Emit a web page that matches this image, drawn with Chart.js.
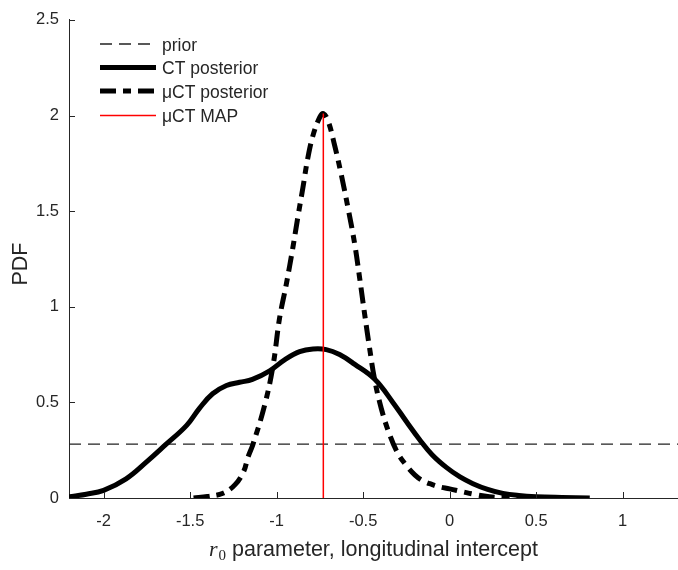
<!DOCTYPE html>
<html>
<head>
<meta charset="utf-8">
<script src="https://cdn.jsdelivr.net/npm/chart.js@4.4.1/dist/chart.umd.min.js"></script>
<style>
  html, body { margin: 0; padding: 0; background: #fff; }
</style>
</head>
<body>
<canvas id="grafico" width="678" height="570"></canvas>
<script>
// Valores (x = r0, y = PDF)
const ctX = [-2.2, -2.1, -2.0, -1.87, -1.75, -1.64, -1.52, -1.445, -1.37, -1.29, -1.214, -1.14, -1.04, -0.95, -0.867, -0.79, -0.713, -0.636, -0.55, -0.434, -0.328, -0.25, -0.173, -0.1, -0.019, 0.06, 0.135, 0.22, 0.308, 0.4, 0.5, 0.65, 0.81];
const ctY = [0.006, 0.02, 0.04, 0.10, 0.19, 0.28, 0.38, 0.47, 0.545, 0.588, 0.605, 0.62, 0.665, 0.725, 0.765, 0.779, 0.776, 0.75, 0.70, 0.622, 0.50, 0.40, 0.305, 0.225, 0.16, 0.11, 0.075, 0.045, 0.024, 0.013, 0.007, 0.003, 0.0];

const muX = [-1.48, -1.40, -1.31, -1.24, -1.19, -1.166, -1.137, -1.069, -1.021, -0.983, -0.944, -0.906, -0.877, -0.848, -0.82, -0.79, -0.751, -0.73, -0.703, -0.665, -0.626, -0.588, -0.549, -0.52, -0.491, -0.462, -0.434, -0.395, -0.347, -0.30, -0.25, -0.20, -0.154, -0.10, -0.058, 0.0, 0.077, 0.15, 0.23, 0.32, 0.42];
const muY = [0.0, 0.008, 0.025, 0.07, 0.14, 0.212, 0.28, 0.486, 0.69, 0.94, 1.118, 1.31, 1.47, 1.623, 1.776, 1.895, 1.99, 2.01, 1.973, 1.845, 1.69, 1.52, 1.33, 1.15, 0.96, 0.78, 0.622, 0.468, 0.332, 0.235, 0.17, 0.12, 0.09, 0.07, 0.058, 0.048, 0.032, 0.018, 0.007, 0.002, 0.0];

const priorX = [-2.2, 1.32];
const priorY = [0.2817, 0.2817];

const mapX = [-0.73, -0.73];
const mapY = [0, 2.01];

const xTicks = [-2, -1.5, -1, -0.5, 0, 0.5, 1];
const yTicks = [0, 0.5, 1, 1.5, 2, 2.5];
const etiquetas = ['prior', 'CT posterior', 'μCT posterior', 'μCT MAP'];

const ejeColor = '#262626';
const fuente = 'Liberation Sans, Arial, sans-serif';

// convierte dos arrays en puntos {x, y}
function puntos(xs, ys) {
  return xs.map((x, i) => ({ x: x, y: ys[i] }));
}

// ticks hacia adentro, títulos de ejes y leyenda
const extras = {
  id: 'extras',
  afterDraw(chart) {
    const ctx = chart.ctx;
    const xs = chart.scales.x;
    const ys = chart.scales.y;
    const area = chart.chartArea;
    ctx.save();

    // ticks
    ctx.strokeStyle = ejeColor;
    ctx.lineWidth = 1;
    ctx.beginPath();
    xTicks.forEach(v => {
      const px = Math.round(xs.getPixelForValue(v)) + 0.5;
      ctx.moveTo(px, area.bottom);
      ctx.lineTo(px, area.bottom - 6);
    });
    yTicks.forEach(v => {
      const py = Math.round(ys.getPixelForValue(v)) + 0.5;
      ctx.moveTo(area.left, py);
      ctx.lineTo(area.left + 6, py);
    });
    ctx.stroke();

    // título eje y
    ctx.fillStyle = ejeColor;
    ctx.save();
    ctx.translate(21, 264);
    ctx.rotate(-Math.PI / 2);
    ctx.font = '21.5px ' + fuente;
    ctx.textAlign = 'center';
    ctx.textBaseline = 'middle';
    ctx.fillText('PDF', 0, 0);
    ctx.restore();

    // título eje x: r en cursiva con subíndice 0
    const resto = ' parameter, longitudinal intercept';
    ctx.textBaseline = 'alphabetic';
    ctx.textAlign = 'left';
    ctx.font = 'italic 22px Liberation Serif, serif';
    const wR = ctx.measureText('r').width;
    ctx.font = '15px Liberation Serif, serif';
    const w0 = ctx.measureText('0').width;
    ctx.font = '21.5px ' + fuente;
    const wResto = ctx.measureText(resto).width;
    const total = wR + 1 + w0 + wResto;
    let x0 = (area.left + area.right) / 2 - total / 2;
    const base = 556;
    ctx.font = 'italic 22px Liberation Serif, serif';
    ctx.fillText('r', x0, base);
    x0 += wR + 1;
    ctx.font = '15px Liberation Serif, serif';
    ctx.fillText('0', x0, base + 4);
    x0 += w0;
    ctx.font = '21.5px ' + fuente;
    ctx.fillText(resto, x0, base);

    // leyenda
    const filas = [44, 67.5, 91, 115.5];
    ctx.font = '17.5px ' + fuente;
    ctx.textBaseline = 'middle';
    filas.forEach((fy, i) => {
      const set = chart.data.datasets[i];
      ctx.save();
      ctx.strokeStyle = set.borderColor;
      ctx.lineWidth = set.borderWidth;
      ctx.setLineDash(set.borderDash || []);
      ctx.beginPath();
      ctx.moveTo(100, fy);
      ctx.lineTo(156, fy);
      ctx.stroke();
      ctx.restore();
      ctx.fillStyle = ejeColor;
      ctx.fillText(etiquetas[i], 162, fy + 2);
    });

    ctx.restore();
  }
};

const grafico = new Chart(document.getElementById('grafico'), {
  type: 'scatter',
  data: {
    datasets: [
      {
        label: etiquetas[0],
        data: puntos(priorX, priorY),
        showLine: true,
        borderColor: '#222222',
        borderWidth: 1.3,
        borderDash: [12, 7],
        pointRadius: 0,
        order: 3
      },
      {
        label: etiquetas[1],
        data: puntos(ctX, ctY),
        showLine: true,
        borderColor: '#000000',
        borderWidth: 5,
        pointRadius: 0,
        tension: 0.4,
        order: 2
      },
      {
        label: etiquetas[2],
        data: puntos(muX, muY),
        showLine: true,
        borderColor: '#000000',
        borderWidth: 5,
        borderDash: [16, 7, 8, 7],
        pointRadius: 0,
        tension: 0.4,
        order: 1
      },
      {
        label: etiquetas[3],
        data: puntos(mapX, mapY),
        showLine: true,
        borderColor: '#ff0000',
        borderWidth: 1.5,
        pointRadius: 0,
        order: 0
      }
    ]
  },
  options: {
    responsive: false,
    animation: false,
    layout: { padding: { top: 10, right: 0, left: 0, bottom: 0 } },
    plugins: {
      legend: { display: false },
      tooltip: { enabled: false }
    },
    scales: {
      x: {
        type: 'linear',
        min: -2.2,
        max: 1.32,
        afterBuildTicks: s => { s.ticks = xTicks.map(v => ({ value: v })); },
        afterFit: s => { s.height = 72; },
        grid: { display: false, drawTicks: false },
        border: { color: ejeColor, width: 1 },
        ticks: {
          color: ejeColor,
          font: { family: fuente, size: 16.5 },
          padding: 14,
          maxRotation: 0,
          callback: v => String(v)
        }
      },
      y: {
        type: 'linear',
        min: 0,
        max: 2.5,
        afterBuildTicks: s => { s.ticks = yTicks.map(v => ({ value: v })); },
        afterFit: s => { s.width = 69; },
        grid: { display: false, drawTicks: false },
        border: { color: ejeColor, width: 1 },
        ticks: {
          color: ejeColor,
          font: { family: fuente, size: 16.5 },
          padding: 10,
          callback: v => String(v)
        }
      }
    }
  },
  plugins: [extras]
});
</script>
</body>
</html>
